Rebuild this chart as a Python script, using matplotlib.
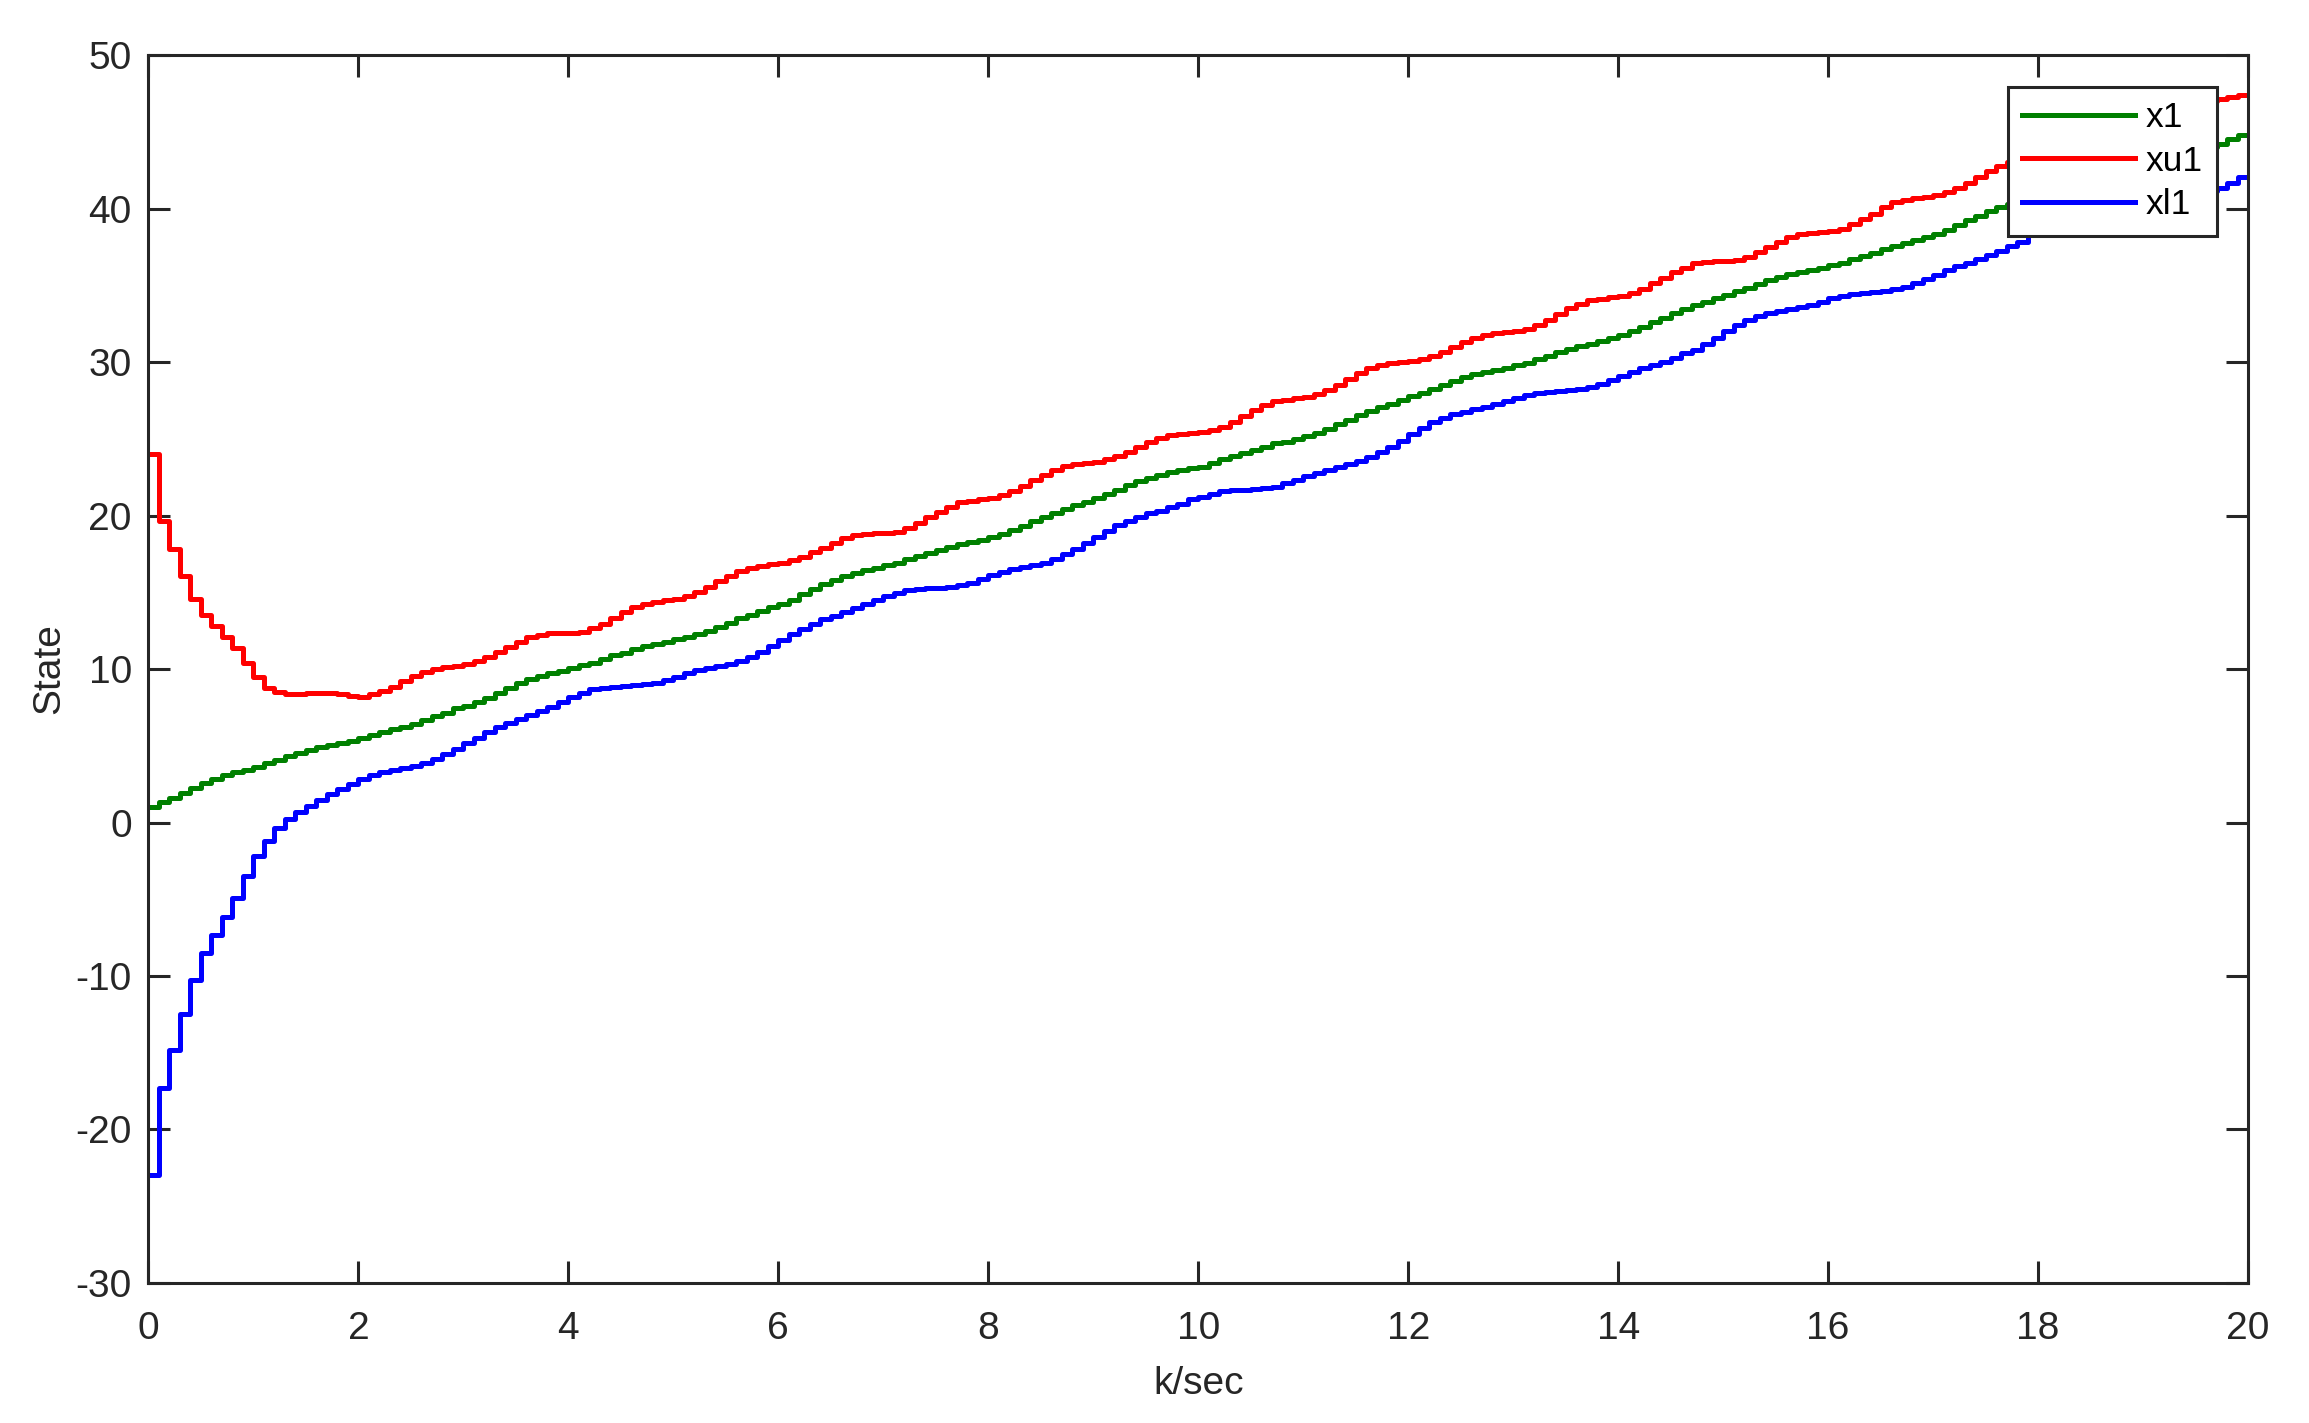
import numpy as np
import matplotlib
matplotlib.use('Agg')
import matplotlib.pyplot as plt

plt.rcParams['font.family'] = ['Liberation Sans', 'DejaVu Sans']
plt.rcParams['axes.unicode_minus'] = False

# sample step 0.1 s, 200 samples
dt = 0.1

x1 = [0.99, 1.32, 1.58, 1.95, 2.27, 2.55, 2.82, 3.08, 3.27, 3.40,
      3.6, 3.86, 4.08, 4.31, 4.51, 4.73, 4.9, 5.05, 5.16, 5.31,
      5.49, 5.7, 5.92, 6.07, 6.2, 6.42, 6.68, 6.94, 7.16, 7.44,
      7.62, 7.88, 8.14, 8.46, 8.77, 9.07, 9.33, 9.57, 9.76, 9.9,
      10.07, 10.26, 10.42, 10.68, 10.89, 11.07, 11.28, 11.5, 11.63, 11.78,
      11.94, 12.07, 12.28, 12.5, 12.76, 13.02, 13.3, 13.54, 13.8, 14.06,
      14.26, 14.5, 14.89, 15.19, 15.52, 15.8, 16.08, 16.23, 16.43, 16.58,
      16.75, 16.93, 17.15, 17.34, 17.54, 17.73, 17.95, 18.12, 18.27, 18.41,
      18.58, 18.77, 19.03, 19.32, 19.64, 19.93, 20.14, 20.4, 20.69, 20.88,
      21.12, 21.4, 21.66, 21.97, 22.25, 22.44, 22.64, 22.83, 22.97, 23.07,
      23.18, 23.4, 23.66, 23.88, 24.1, 24.27, 24.49, 24.71, 24.81, 24.99,
      25.2, 25.4, 25.64, 25.94, 26.23, 26.55, 26.81, 27.09, 27.27, 27.53,
      27.79, 28.01, 28.27, 28.51, 28.77, 29.05, 29.22, 29.33, 29.48, 29.59,
      29.79, 29.92, 30.2, 30.42, 30.63, 30.85, 31.02, 31.18, 31.37, 31.59,
      31.76, 32.02, 32.3, 32.59, 32.89, 33.17, 33.43, 33.72, 33.91, 34.15,
      34.37, 34.63, 34.82, 35.08, 35.34, 35.56, 35.73, 35.86, 35.99, 36.1,
      36.3, 36.43, 36.71, 36.93, 37.12, 37.39, 37.58, 37.75, 37.95, 38.17,
      38.34, 38.6, 38.93, 39.25, 39.51, 39.82, 40.1, 40.3, 40.55, 40.8,
      41.0, 41.15, 41.3, 41.45, 41.65, 41.85, 42.1, 42.35, 42.6, 42.8,
      42.95, 43.1, 43.25, 43.4, 43.6, 43.8, 44.0, 44.2, 44.5, 44.79]

xu1 = [24.0, 19.66, 17.82, 16.06, 14.54, 13.52, 12.82, 12.11, 11.35, 10.37,
       9.46, 8.78, 8.48, 8.35, 8.35, 8.42, 8.42, 8.42, 8.35, 8.26,
       8.2, 8.35, 8.57, 8.81, 9.24, 9.54, 9.78, 10.0, 10.11, 10.17,
       10.3, 10.54, 10.76, 11.11, 11.45, 11.76, 12.1, 12.24, 12.33, 12.33,
       12.33, 12.44, 12.65, 12.94, 13.35, 13.7, 14.02, 14.22, 14.39, 14.5,
       14.56, 14.74, 15.02, 15.37, 15.74, 16.06, 16.39, 16.56, 16.71, 16.82,
       16.89, 17.1, 17.32, 17.6, 17.91, 18.23, 18.51, 18.73, 18.82, 18.84,
       18.86, 18.95, 19.17, 19.49, 19.88, 20.25, 20.58, 20.86, 20.95, 21.08,
       21.16, 21.32, 21.58, 21.9, 22.29, 22.66, 22.94, 23.2, 23.33, 23.4,
       23.51, 23.66, 23.88, 24.14, 24.44, 24.77, 25.05, 25.22, 25.31, 25.38,
       25.42, 25.57, 25.79, 26.07, 26.49, 26.88, 27.2, 27.46, 27.53, 27.64,
       27.72, 27.9, 28.18, 28.51, 28.9, 29.27, 29.59, 29.79, 29.92, 29.98,
       30.07, 30.2, 30.39, 30.68, 30.96, 31.28, 31.55, 31.74, 31.87, 31.94,
       32.0, 32.13, 32.41, 32.74, 33.13, 33.5, 33.78, 34.02, 34.11, 34.26,
       34.3, 34.47, 34.76, 35.13, 35.5, 35.84, 36.15, 36.47, 36.54, 36.56,
       36.6, 36.67, 36.86, 37.15, 37.47, 37.8, 38.12, 38.32, 38.43, 38.49,
       38.56, 38.69, 38.97, 39.3, 39.67, 40.08, 40.4, 40.58, 40.66, 40.77,
       40.86, 41.05, 41.34, 41.68, 42.08, 42.44, 42.77, 43.05, 43.3, 43.5,
       43.65, 43.75, 43.85, 44.0, 44.25, 44.55, 44.85, 45.15, 45.4, 45.6,
       45.7, 45.8, 45.95, 46.2, 46.5, 46.8, 47.0, 47.11, 47.28, 47.39]

xl1 = [-22.96, -17.31, -14.82, -12.47, -10.26, -8.48, -7.33, -6.17, -4.94, -3.48,
       -2.18, -1.2, -0.38, 0.21, 0.71, 1.1, 1.45, 1.86, 2.19, 2.51,
       2.82, 3.1, 3.29, 3.42, 3.58, 3.68, 3.9, 4.16, 4.47, 4.79,
       5.21, 5.53, 5.92, 6.2, 6.46, 6.75, 7.01, 7.29, 7.55, 7.88,
       8.2, 8.46, 8.68, 8.79, 8.85, 8.92, 8.96, 9.03, 9.11, 9.29,
       9.5, 9.72, 9.94, 10.09, 10.22, 10.33, 10.5, 10.76, 11.09, 11.5,
       11.89, 12.26, 12.61, 12.94, 13.24, 13.48, 13.71, 13.95, 14.21, 14.5,
       14.78, 14.97, 15.15, 15.23, 15.28, 15.28, 15.34, 15.47, 15.63, 15.89,
       16.12, 16.34, 16.52, 16.62, 16.75, 16.93, 17.19, 17.47, 17.8, 18.19,
       18.62, 19.01, 19.38, 19.66, 19.93, 20.19, 20.32, 20.53, 20.75, 21.05,
       21.19, 21.38, 21.6, 21.66, 21.66, 21.71, 21.77, 21.88, 22.1, 22.32,
       22.58, 22.79, 22.97, 23.18, 23.36, 23.55, 23.84, 24.16, 24.49, 24.86,
       25.29, 25.68, 26.07, 26.33, 26.62, 26.72, 26.92, 27.05, 27.27, 27.48,
       27.68, 27.85, 28.01, 28.07, 28.11, 28.18, 28.27, 28.37, 28.57, 28.83,
       29.09, 29.37, 29.63, 29.81, 30.02, 30.28, 30.57, 30.78, 31.17, 31.54,
       32.02, 32.41, 32.74, 33.02, 33.22, 33.35, 33.46, 33.61, 33.72, 33.93,
       34.15, 34.32, 34.43, 34.52, 34.56, 34.65, 34.74, 34.91, 35.17, 35.41,
       35.67, 35.99, 36.28, 36.47, 36.71, 36.97, 37.23, 37.56, 37.84, 38.27,
       38.6, 38.85, 39.05, 39.2, 39.35, 39.5, 39.65, 39.8, 40.0, 40.2,
       40.4, 40.6, 40.75, 40.85, 40.95, 41.05, 41.15, 41.31, 41.64, 42.03]

xticks = list(range(0, 21, 2))
yticks = list(range(-30, 51, 10))

axcol = '#262626'

fig = plt.figure(figsize=(23.09, 14.23), dpi=100)
ax = fig.add_axes([0.0643, 0.0984, 0.9093, 0.8629])

t = np.arange(len(x1) + 1) * dt
for vals, col, lab in [(x1, '#008000', 'x1'), (xu1, '#ff0000', 'xu1'), (xl1, '#0000ff', 'xl1')]:
    ax.step(t, list(vals) + [vals[-1]], where='post', color=col, lw=3.6, label=lab)

ax.set_xlim(0, 20)
ax.set_ylim(-30, 50)
ax.set_xticks(xticks)
ax.set_yticks(yticks)
ax.tick_params(direction='in', top=True, right=True, length=16, width=2.2,
               color=axcol, labelsize=28, labelcolor=axcol)
ax.tick_params(axis='x', pad=20)
ax.tick_params(axis='y', pad=12)
for s in ax.spines.values():
    s.set_linewidth(2.2)
    s.set_color(axcol)

ax.set_xlabel('k/sec', fontsize=28, color=axcol, labelpad=14)
ax.set_ylabel('State', fontsize=28, color=axcol, labelpad=6)

leg = ax.legend(loc='upper right', bbox_to_anchor=(0.9852, 0.974), borderaxespad=0,
                fontsize=25.5, fancybox=False, framealpha=1, edgecolor=axcol,
                handlelength=3.2, handletextpad=0.3, labelspacing=0.3,
                borderpad=0.4)
leg.get_frame().set_linewidth(2.2)

fig.savefig('out.png', dpi=100)
